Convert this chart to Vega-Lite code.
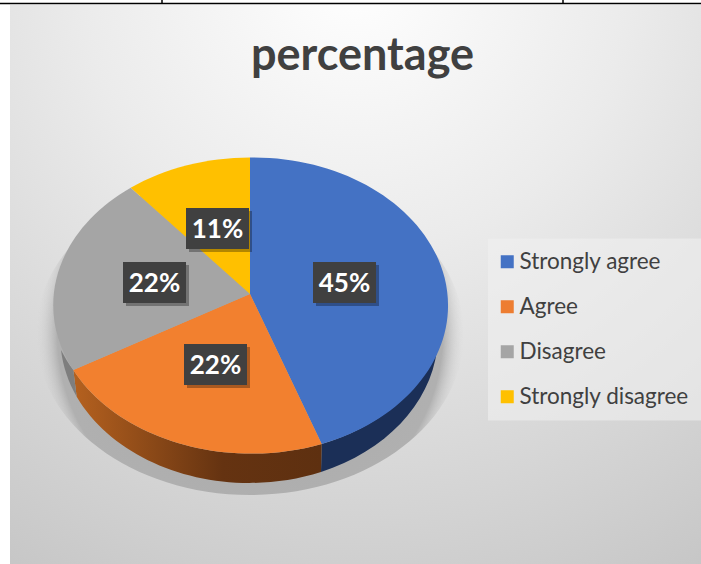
{
"$schema":"https://vega.github.io/schema/vega-lite/v6.json",
"width":691,"height":559,
"autosize":{"type":"none"},
"padding":{"left":10,"top":5,"right":0,"bottom":0},
"background":"#ffffff",
"view":{"stroke":null},
"title":{"text":"percentage","font":"Lato","fontSize":45,"fontWeight":"bold","color":"#404040","anchor":"middle","dx":7,"dy":120,"baseline":"alphabetic"},
"data":{"values":[
{"category":"Strongly agree","share":0.45},
{"category":"Agree","share":0.22},
{"category":"Disagree","share":0.22},
{"category":"Strongly disagree","share":0.11}
]},
"encoding":{
"x":{"datum":250,"scale":{"domain":[10,701]},"axis":null},
"y":{"datum":294,"scale":{"domain":[564,5]},"axis":null}
},
"layer":[
{"transform":[{"filter":"datum.category==='Agree'"}],
"mark":{"type":"rect","color":{"gradient":"radial","x1":0.5,"y1":0.05,"r1":0,"x2":0.5,"y2":0.05,"r2":1,"stops":[{"offset":0,"color":"#ffffff"},{"offset":0.4,"color":"#ebebeb"},{"offset":1,"color":"#c6c6c6"}]}},
"encoding":{"x":{"datum":10},"x2":{"datum":701},"y":{"datum":5},"y2":{"datum":564}}},
{"transform":[{"filter":"datum.category==='Agree'"}],
"mark":{"type":"point","filled":true,"size":4,"opacity":1,"fill":{"gradient":"radial","x1":0.5,"y1":0.5,"r1":0,"x2":0.5,"y2":0.5,"r2":0.5,"stops":[{"offset":0,"color":"#a8a8a8"},{"offset":0.9,"color":"#b0b0b0"},{"offset":1,"color":"rgba(215,215,215,0)"}]}},
"encoding":{"shape":{"value":"M-214,40A214,161,0,1,1,214,40A214,161,0,1,1,-214,40Z"}}},
{"transform":[{"filter":"datum.category==='Strongly agree'"}],
"mark":{"type":"point","filled":true,"size":4,"opacity":1,"fill":"#1b2f57"},
"encoding":{"shape":{"value":"M187,56A188,148,0,0,1,71,178L71.7,150A195,148,0,0,0,187,56Z"}}},
{"transform":[{"filter":"datum.category==='Agree'"}],
"mark":{"type":"point","filled":true,"size":4,"opacity":1,"fill":{"gradient":"linear","x1":0,"y1":0,"x2":1,"y2":0,"stops":[{"offset":0,"color":"#b5611f"},{"offset":0.6,"color":"#653311"},{"offset":1,"color":"#5e3010"}]}},
"encoding":{"shape":{"value":"M71.7,150L71,178A190,148,0,0,1,-173.3,102.7L-176.7,76A198,148,0,0,0,71.7,150Z"}}},
{"transform":[{"filter":"datum.category==='Disagree'"}],
"mark":{"type":"point","filled":true,"size":4,"opacity":1,"fill":"#7e7e7e"},
"encoding":{"shape":{"value":"M-176.7,76L-173.3,102.7A190,148,0,0,1,-189,56A198,148,0,0,0,-176.7,76Z"}}},
{"mark":{"type":"point","filled":true,"size":4,"opacity":1},
"encoding":{
"fill":{"field":"category","type":"nominal","legend":null,
"scale":{"domain":["Agree","Disagree","Strongly agree","Strongly disagree"],"range":["#f2802f","#a5a5a5","#4472c4","#ffc000"]}},
"shape":{"field":"category","type":"nominal","legend":null,
"scale":{"domain":["Agree","Disagree","Strongly agree","Strongly disagree"],"range":[
"M0,0L71.7,150A198,148,0,0,1,-176.7,76Z",
"M0,0L-176.7,76A198,148,0,0,1,-119.3,-106.3Z",
"M0,0L0,-136.5A195,148,0,0,1,71.7,150Z",
"M0,0L-119.3,-106.3A198,148,0,0,1,0,-136.5Z"]}}
}},
{"mark":{"type":"point","filled":true,"size":1,"opacity":0},
"encoding":{
"color":{"field":"category","type":"nominal","sort":null,
"scale":{"domain":["Strongly agree","Agree","Disagree","Strongly disagree"],"range":["#4472c4","#ed7d31","#a5a5a5","#ffc000"]},
"legend":{"orient":"none","legendX":478,"legendY":233.5,"title":null,"direction":"vertical","fillColor":"rgba(240,240,240,0.6)","padding":12,"symbolType":"square","symbolSize":169,"symbolOffset":-4,"symbolStrokeWidth":0,"symbolOpacity":1,"labelFont":"Lato","labelFontSize":22.5,"labelColor":"#404040","labelOffset":1,"rowPadding":22,"labelLimit":260}}
}},
{"transform":[{"filter":"datum.category==='Strongly agree'"}],
"encoding":{"x":{"datum":344.5},"y":{"datum":282.5}},
"layer":[
{"mark":{"type":"rect","width":63,"height":41,"xOffset":3,"yOffset":3,"color":"#000000","opacity":0.3}},
{"mark":{"type":"rect","width":63,"height":41,"color":"#404040"}},
{"mark":{"type":"text","font":"Lato","fontWeight":"bold","fontSize":26,"color":"#ffffff","dy":1},"encoding":{"text":{"field":"share","type":"quantitative","format":".0%"}}}
]},
{"transform":[{"filter":"datum.category==='Agree'"}],
"encoding":{"x":{"datum":215.5},"y":{"datum":364.5}},
"layer":[
{"mark":{"type":"rect","width":63,"height":41,"xOffset":3,"yOffset":3,"color":"#000000","opacity":0.3}},
{"mark":{"type":"rect","width":63,"height":41,"color":"#404040"}},
{"mark":{"type":"text","font":"Lato","fontWeight":"bold","fontSize":26,"color":"#ffffff","dy":1},"encoding":{"text":{"field":"share","type":"quantitative","format":".0%"}}}
]},
{"transform":[{"filter":"datum.category==='Disagree'"}],
"encoding":{"x":{"datum":154.5},"y":{"datum":282.5}},
"layer":[
{"mark":{"type":"rect","width":63,"height":41,"xOffset":3,"yOffset":3,"color":"#000000","opacity":0.3}},
{"mark":{"type":"rect","width":63,"height":41,"color":"#404040"}},
{"mark":{"type":"text","font":"Lato","fontWeight":"bold","fontSize":26,"color":"#ffffff","dy":1},"encoding":{"text":{"field":"share","type":"quantitative","format":".0%"}}}
]},
{"transform":[{"filter":"datum.category==='Strongly disagree'"}],
"encoding":{"x":{"datum":217.5},"y":{"datum":228.5}},
"layer":[
{"mark":{"type":"rect","width":63,"height":41,"xOffset":3,"yOffset":3,"color":"#000000","opacity":0.3}},
{"mark":{"type":"rect","width":63,"height":41,"color":"#404040"}},
{"mark":{"type":"text","font":"Lato","fontWeight":"bold","fontSize":26,"color":"#ffffff","dy":1},"encoding":{"text":{"field":"share","type":"quantitative","format":".0%"}}}
]},
{"transform":[{"filter":"datum.category==='Agree'"}],
"mark":{"type":"rule","color":"#000000","strokeWidth":1.5},
"encoding":{"x":{"datum":0},"x2":{"datum":701},"y":{"datum":3.5}}},
{"transform":[{"filter":"datum.category==='Agree'"}],
"mark":{"type":"rule","color":"#000000","strokeWidth":1.5},
"encoding":{"x":{"datum":162},"y":{"datum":0},"y2":{"datum":4}}},
{"transform":[{"filter":"datum.category==='Agree'"}],
"mark":{"type":"rule","color":"#000000","strokeWidth":1.5},
"encoding":{"x":{"datum":563},"y":{"datum":0},"y2":{"datum":4}}}
]
}
